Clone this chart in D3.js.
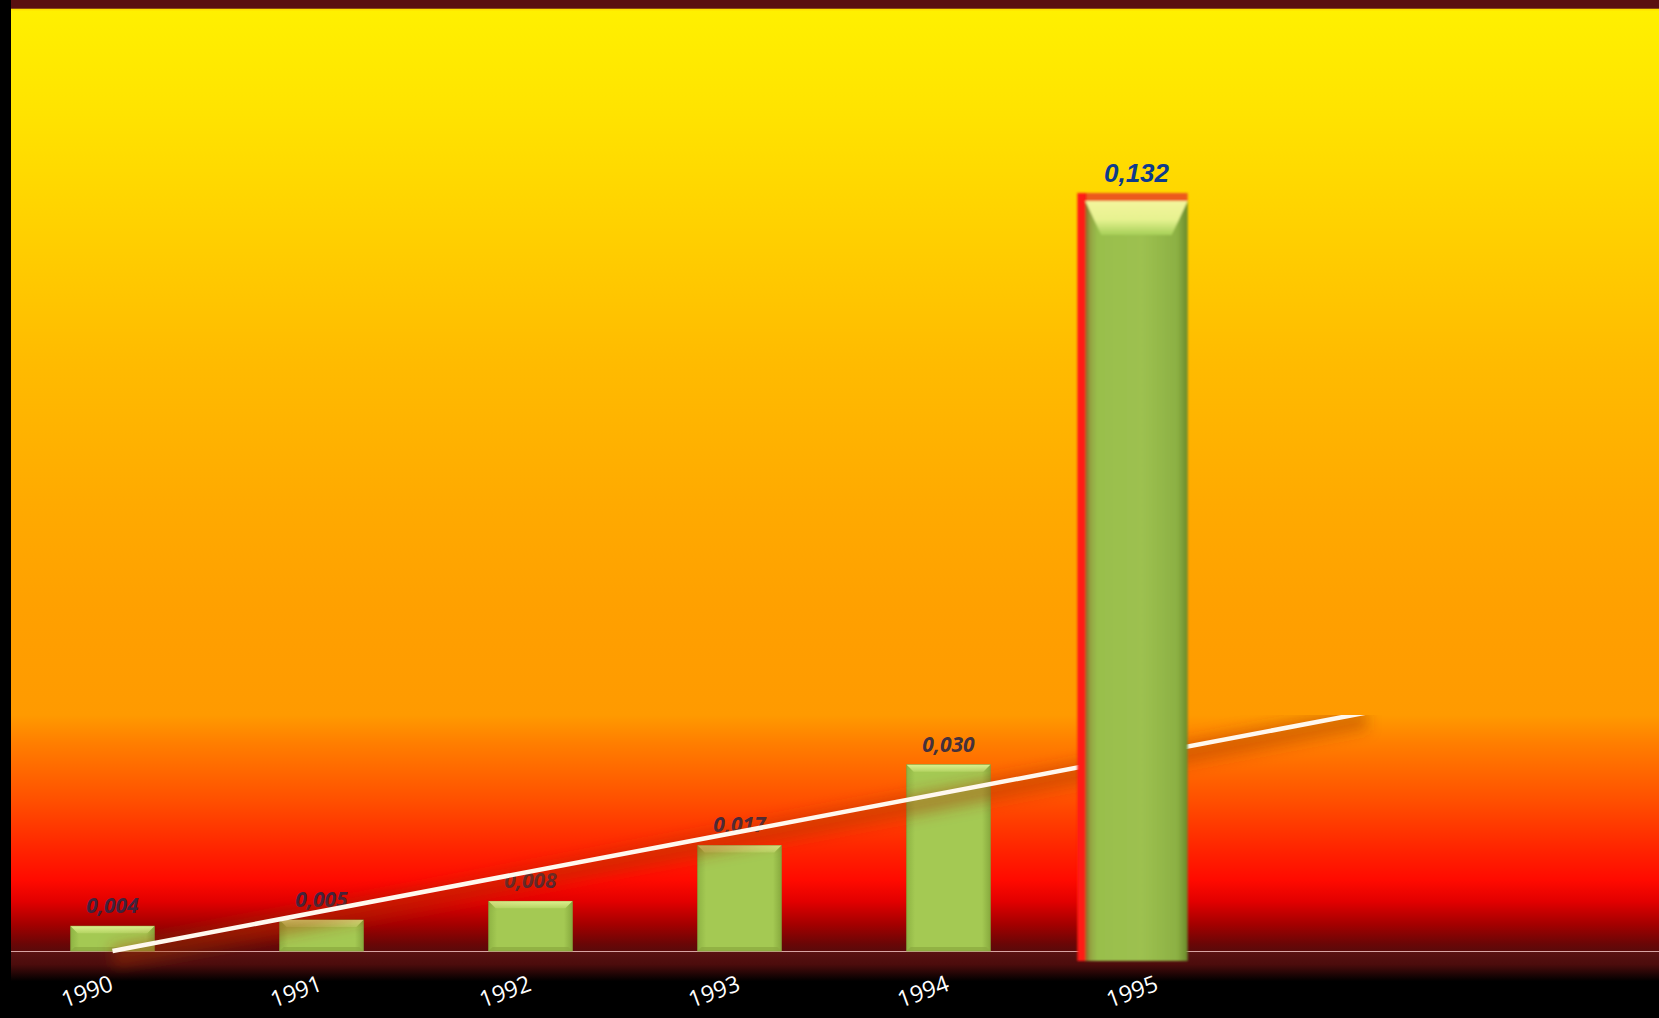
<!DOCTYPE html>
<html>
<head>
<meta charset="utf-8">
<script src="https://cdn.jsdelivr.net/npm/d3@7/dist/d3.min.js"></script>
<style>
  html, body { margin: 0; padding: 0; background: #000; }
  svg { display: block; }
</style>
</head>
<body>
<svg id="chart" width="1659" height="1018"></svg>
<script>
// Yearly values (decimal comma in labels)
const years = ["1990", "1991", "1992", "1993", "1994", "1995"];
const values = [0.004, 0.005, 0.008, 0.017, 0.030, 0.132];
const highlightYear = "1995";
const trendForecastPeriods = 2;

const W = 1659, H = 1018;
const left = 11, topBand = 8, baseline = 951;

const fmt = d3.formatLocale({ decimal: ",", thousands: " ", grouping: [3], currency: ["", ""] }).format(".3f");

const svg = d3.select("#chart");
const defs = svg.append("defs");

// scales: base panel for the ordinary bars and trend, tall scale for the highlighted bar
const x = d3.scaleBand().domain(years).range([8, 1262]).paddingInner(0.6).paddingOuter(0.3);
const yMain = d3.scaleLinear().domain([0, 0.038]).range([baseline, 715]);
const yTall = d3.scaleLinear().domain([0, 0.165]).range([baseline + 10, 1]);
const panelTop = yMain(yMain.domain()[1]);
const step = x.step(), bw = x.bandwidth();
const cx = d => x(d) + bw / 2;

function lin(id, x1, y1, x2, y2, stops, units) {
  const g = defs.append("linearGradient").attr("id", id)
    .attr("x1", x1).attr("y1", y1).attr("x2", x2).attr("y2", y2);
  if (units) g.attr("gradientUnits", units);
  stops.forEach(s => g.append("stop").attr("offset", s[0]).attr("stop-color", s[1]));
}

lin("upperBg", 0, topBand, 0, panelTop, [
  [0, "#ffd400"], [0.005, "#fff000"], [0.15, "#ffe300"], [0.3, "#ffd200"],
  [0.5, "#ffbb00"], [0.7, "#ffaa00"], [0.85, "#ffa000"], [1, "#ff9a00"]], "userSpaceOnUse");
lin("lowerBg", 0, panelTop, 0, baseline, [
  [0, "#ff9a00"], [0.12, "#ff7e00"], [0.36, "#ff5000"], [0.57, "#ff2400"],
  [0.7, "#ff0a00"], [0.79, "#e20000"], [0.89, "#a20000"], [0.97, "#6a0606"], [1, "#5a0a0a"]], "userSpaceOnUse");
lin("floorBg", 0, baseline, 0, H, [
  [0, "#5a1212"], [0.2, "#4c0c0c"], [0.45, "#000000"], [1, "#000000"]], "userSpaceOnUse");
lin("barFace", 0, 0, 1, 0, [
  [0, "#8fb444"], [0.1, "#a4c953"], [0.9, "#a4c953"], [1, "#88aa3e"]]);
lin("barBevel", 0, 0, 0, 1, [[0, "#dcf08e"], [1, "#b4d462"]]);
lin("tallFace", 0, 0, 1, 0, [
  [0, "#8a6424"], [0.05, "#93a442"], [0.12, "#99bf4c"], [0.55, "#9dc150"],
  [0.9, "#8cb043"], [1, "#6a8a2c"]]);
lin("tallBevel", 0, 0, 0, 1, [[0, "#f4f59c"], [0.55, "#e6f290"], [1, "#a6cf58"]]);

const soft = defs.append("filter").attr("id", "soft").attr("x", "-50%").attr("y", "-50%").attr("width", "200%").attr("height", "200%");
soft.append("feGaussianBlur").attr("stdDeviation", 7);
const slight = defs.append("filter").attr("id", "slight");
slight.append("feGaussianBlur").attr("stdDeviation", 0.8);

defs.append("clipPath").attr("id", "lowerClip")
  .append("rect").attr("x", left).attr("y", panelTop).attr("width", W - left).attr("height", H - panelTop);

// backgrounds
svg.append("rect").attr("width", W).attr("height", H).attr("fill", "#000");
svg.append("rect").attr("x", left).attr("y", 0).attr("width", W - left).attr("height", topBand).attr("fill", "#5a0f10");
svg.append("rect").attr("x", left).attr("y", topBand).attr("width", W - left).attr("height", 1.2).attr("fill", "#8a4a10");
svg.append("rect").attr("x", left).attr("y", topBand + 1).attr("width", W - left).attr("height", panelTop - topBand - 1).attr("fill", "url(#upperBg)");
svg.append("rect").attr("x", left).attr("y", panelTop).attr("width", W - left).attr("height", baseline - panelTop).attr("fill", "url(#lowerBg)");
svg.append("rect").attr("x", left).attr("y", baseline).attr("width", W - left).attr("height", H - baseline).attr("fill", "url(#floorBg)");

// category axis line
svg.append("line").attr("x1", left).attr("x2", W).attr("y1", baseline + 0.5).attr("y2", baseline + 0.5)
  .attr("stroke", "#d8a4a4").attr("stroke-width", 1);

const allData = years.map((y, i) => ({ year: y, value: values[i], i }));
const baseData = allData.filter(d => d.year !== highlightYear);
const hi = allData.find(d => d.year === highlightYear);

// ordinary bars with a bevelled top
const bars = svg.append("g").selectAll("g").data(baseData).join("g");
bars.append("rect")
  .attr("x", d => x(d.year)).attr("y", d => yMain(d.value))
  .attr("width", bw).attr("height", d => yMain(0) - yMain(d.value))
  .attr("fill", "url(#barFace)").attr("stroke", "#86a23c").attr("stroke-width", 0.8);
bars.append("path")
  .attr("d", d => {
    const x0 = x(d.year), t = yMain(d.value), b = 7;
    return `M${x0},${t}L${x0 + bw},${t}L${x0 + bw - b},${t + b}L${x0 + b},${t + b}Z`;
  })
  .attr("fill", "url(#barBevel)");
bars.append("path")
  .attr("d", d => {
    const x0 = x(d.year), bot = yMain(0), b = 4;
    return `M${x0},${bot}L${x0 + b},${bot - b}L${x0 + bw - b},${bot - b}L${x0 + bw},${bot}Z`;
  })
  .attr("fill", "#8aa83e").attr("opacity", 0.7);

// value labels for ordinary bars
svg.append("g").selectAll("text").data(baseData).join("text")
  .attr("x", d => cx(d.year)).attr("y", d => yMain(d.value) - 13)
  .attr("text-anchor", "middle")
  .attr("font-family", "'Open Sans', 'DejaVu Sans', sans-serif")
  .attr("font-style", "italic").attr("font-weight", 700).attr("font-size", 21)
  .attr("fill", "#2b2744").attr("fill-opacity", 0.9)
  .text(d => fmt(d.value));

// linear trend of the ordinary series, extended forward
const n = baseData.length;
const mx = d3.mean(baseData, d => d.i), my = d3.mean(baseData, d => d.value);
const slope = d3.sum(baseData, d => (d.i - mx) * (d.value - my)) / d3.sum(baseData, d => (d.i - mx) ** 2);
const intercept = my - slope * mx;
const trendIdx = [0, n - 1 + trendForecastPeriods];
const x0c = cx(years[0]);
const trendLine = d3.line().x(i => x0c + i * step).y(i => yMain(intercept + slope * i));

const trendG = svg.append("g").attr("clip-path", "url(#lowerClip)");
trendG.append("path").datum(trendIdx).attr("d", trendLine)
  .attr("transform", "translate(0,6)")
  .attr("fill", "none").attr("stroke", "#a8380c").attr("stroke-width", 22)
  .attr("stroke-opacity", 0.42).attr("filter", "url(#soft)");
trendG.append("path").datum(trendIdx).attr("d", trendLine)
  .attr("fill", "none").attr("stroke", "#fff8ee").attr("stroke-width", 4.5);

// highlighted bar
const hw = bw * 1.32;
const hx = cx(hi.year) - hw / 2 - 25;
const ht = yTall(hi.value), hb = yTall(0);
const edge = 8;
const tall = svg.append("g").attr("filter", "url(#slight)");
tall.append("rect").attr("x", hx).attr("y", ht).attr("width", edge + 1).attr("height", hb - ht)
  .attr("fill", "#ff1a12").style("mix-blend-mode", "multiply");
tall.append("rect").attr("x", hx + edge).attr("y", ht).attr("width", hw - edge).attr("height", edge)
  .attr("fill", "#ec5a1a").style("mix-blend-mode", "multiply");
tall.append("rect").attr("x", hx + edge).attr("y", ht + edge).attr("width", hw - edge).attr("height", hb - ht - edge)
  .attr("fill", "url(#tallFace)");
tall.append("path")
  .attr("d", `M${hx + edge},${ht + edge}L${hx + hw},${ht + edge}L${hx + hw - 16},${ht + 42}L${hx + edge + 16},${ht + 42}Z`)
  .attr("fill", "url(#tallBevel)");

svg.append("text")
  .attr("x", hx + hw / 2 + 4).attr("y", ht - 11)
  .attr("text-anchor", "middle")
  .attr("font-family", "'Liberation Sans', Arial, sans-serif")
  .attr("font-style", "italic").attr("font-weight", 700).attr("font-size", 26)
  .attr("fill", "#0d3b8e")
  .text(fmt(hi.value));

// rotated category labels
svg.append("g").selectAll("text").data(years).join("text")
  .attr("transform", d => `translate(${cx(d) + 2},990) rotate(-20)`)
  .attr("text-anchor", "end")
  .attr("font-family", "'Open Sans', 'DejaVu Sans', sans-serif")
  .attr("font-size", 23)
  .attr("fill", "#ffffff")
  .text(d => d);
</script>
</body>
</html>
